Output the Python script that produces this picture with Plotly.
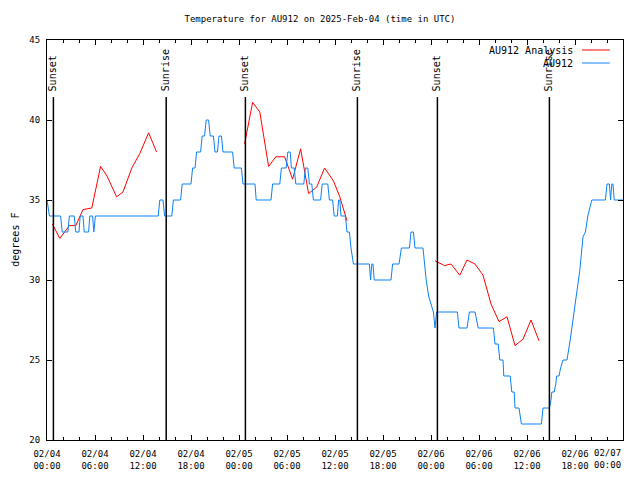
import datetime as dt
import plotly.graph_objects as go

BASE = dt.datetime(2025, 2, 4)

# Observed temperatures (hours since 2025-02-04 00:00 UTC, degrees F)
obs_hours = [0.0, 0.3, 1.7, 1.9, 2.6, 2.8, 3.4, 3.6, 4.0, 4.15, 4.5, 4.65, 5.2, 5.35, 5.7, 5.85, 6.05,
             13.9, 14.1, 14.5, 14.7, 15.6, 15.8, 16.7, 16.9, 18.0, 18.2, 18.5, 18.7, 19.2, 19.4, 19.7,
             19.9, 20.2, 20.4, 20.8, 21.0, 21.3, 21.5, 21.8, 22.0, 23.2, 23.4, 24.3, 24.5, 26.0, 26.15,
             28.0, 28.2, 29.1, 29.3, 29.9, 30.1, 30.4, 30.55, 30.9, 31.1, 32.1, 32.3, 32.6, 32.8, 33.1,
             33.3, 34.2, 34.4, 35.1, 35.3, 35.7, 35.9, 36.3, 36.45, 36.6, 36.75, 37.3, 37.5, 37.8, 38.0,
             38.3, 40.3, 40.45, 40.6, 40.75, 40.9, 43.0, 43.2, 44.0, 44.3, 45.3, 45.5, 45.8, 46.0, 47.0,
             47.2, 47.4, 47.7, 48.0, 48.3, 48.5, 48.7, 51.3, 51.5, 52.5, 52.8, 53.5, 53.9, 55.8, 56.0,
             56.4, 56.6, 57.0, 57.1, 57.9, 58.1, 58.4, 58.5, 59.0, 59.3, 61.8, 62.0, 62.8, 63.0, 63.1,
             63.4, 63.6, 63.7, 64.0, 64.2, 64.5, 65.0, 65.4, 65.8, 66.2, 66.6, 67.0, 67.3, 67.6, 68.1,
             69.8, 70.0, 70.3, 70.45, 70.6, 70.75, 70.9, 72.0]
obs_temps = [35, 34, 34, 33, 33, 34, 34, 33, 33, 34, 34, 33, 33, 34, 34, 33, 34,
             34, 35, 35, 34, 34, 35, 35, 36, 36, 37, 37, 38, 38, 39, 39,
             40, 40, 39, 39, 38, 38, 39, 39, 38, 38, 37, 37, 36, 36, 35,
             35, 36, 36, 37, 37, 38, 38, 37, 37, 36, 36, 37, 37, 36, 36,
             35, 35, 36, 36, 35, 35, 34, 34, 35, 35, 34, 34, 33, 33, 32,
             31, 31, 30, 31, 31, 30, 30, 31, 31, 32, 32, 33, 33, 32, 32,
             31, 30, 29, 28.5, 28, 27, 28, 28, 27, 27, 28, 28, 27, 27, 26,
             26, 25, 25, 24, 24, 23, 23, 22, 22, 21, 21, 22, 22, 22.5, 23,
             23, 23.5, 24, 24, 24.5, 25, 25, 26.25, 27.7, 29.2, 30.6, 32.7, 33, 34, 35,
             35, 36, 36, 35, 36, 36, 35, 35]

# Analysis temperatures (None marks gaps between runs)
anal_hours = [0.67, 1.6, 2.8, 3.6, 4.5, 5.6, 6.7, 7.5, 8.7, 9.5, 10.6, 11.6, 12.7, 13.7, None,
              24.7, 25.7, 26.6, 27.7, 28.6, 29.7, 30.7, 31.7, 32.7, 33.7, 34.7, 35.8, 36.6, 37.5, None,
              48.5, 49.7, 50.5, 51.6, 52.5, 53.5, 54.5, 55.5, 56.5, 57.5, 58.5, 59.5, 60.5, 61.5]
anal_temps = [33.5, 32.6, 33.4, 33.4, 34.4, 34.5, 37.1, 36.5, 35.2, 35.5, 37.0, 37.9, 39.2, 38.0, None,
              38.5, 41.1, 40.5, 37.1, 37.7, 37.7, 36.3, 38.2, 35.4, 35.8, 37.0, 36.2, 35.2, 33.7, None,
              31.2, 30.9, 31.0, 30.3, 31.25, 31.0, 30.3, 28.5, 27.4, 27.7, 25.9, 26.3, 27.5, 26.2]

# Sun events
event_hours = [0.8, 14.9, 24.8, 38.8, 48.8, 62.8]
event_names = ["Sunset", "Sunrise", "Sunset", "Sunrise", "Sunset", "Sunrise"]

# x tick positions (hours) and labels
tick_hours = [0, 6, 12, 18, 24, 30, 36, 42, 48, 54, 60, 66, 72]
tick_labels = ["02/04<br>00:00", "02/04<br>06:00", "02/04<br>12:00", "02/04<br>18:00",
               "02/05<br>00:00", "02/05<br>06:00", "02/05<br>12:00", "02/05<br>18:00",
               "02/06<br>00:00", "02/06<br>06:00", "02/06<br>12:00", "02/06<br>18:00",
               "02/07<br>00:00"]

series_names = ["AU912 Analysis", "AU912"]
series_colors = ["#ff0000", "#0a82f5"]


def to_time(h):
    return None if h is None else BASE + dt.timedelta(hours=h)


FONT = "DejaVu Sans Mono"
TICK_SIZE = 9
# page body has an 8px default margin; size the figure so it fills the 640x480 view
W, H = 632, 472
ML, MT, MR, MB = 39, 32, 17, 40

fig = go.Figure()
fig.add_trace(go.Scatter(x=[to_time(h) for h in anal_hours], y=anal_temps, mode="lines",
                         line=dict(color=series_colors[0], width=1), name=series_names[0],
                         connectgaps=False, showlegend=False))
fig.add_trace(go.Scatter(x=[to_time(h) for h in obs_hours], y=obs_temps, mode="lines",
                         line=dict(color=series_colors[1], width=1), name=series_names[1],
                         showlegend=False))

annotations = []
shapes = []
for h, name in zip(event_hours, event_names):
    t = to_time(h)
    shapes.append(dict(type="line", xref="x", yref="paper", x0=t, x1=t, y0=0, y1=0.8575,
                       line=dict(color="black", width=1.5)))
    annotations.append(dict(x=t, xref="x", y=0.8675, yref="paper", text=name, showarrow=False,
                            textangle=-90, xanchor="center", yanchor="bottom",
                            font=dict(family=FONT, size=10, color="black")))

# legend (gnuplot style: text then line sample)
leg_y = [0.975, 0.9425]
for name, col, yy in zip(series_names, series_colors, leg_y):
    annotations.append(dict(x=0.916, xref="paper", y=yy, yref="paper", text=name, showarrow=False,
                            xanchor="right", yanchor="middle",
                            font=dict(family=FONT, size=10, color="black")))
    shapes.append(dict(type="line", xref="paper", yref="paper", x0=0.9288, x1=0.977, y0=yy, y1=yy,
                       line=dict(color=col, width=1)))

annotations.append(dict(x=-0.056, xref="paper", y=0.5, yref="paper", text="degrees F",
                        showarrow=False, textangle=-90, xanchor="center", yanchor="middle",
                        font=dict(family=FONT, size=10, color="black")))

# last tick label is pulled inside the frame (as in the reference)
annotations.append(dict(x=1.0, xref="paper", y=0, yref="paper", yshift=-6, text=tick_labels[-1],
                        showarrow=False, xanchor="right", yanchor="top", align="center",
                        font=dict(family=FONT, size=TICK_SIZE, color="black")))
shown_labels = tick_labels[:-1] + [""]

fig.update_layout(
    width=W, height=H,
    margin=dict(l=ML, r=MR, t=MT, b=MB, autoexpand=False),
    paper_bgcolor="white", plot_bgcolor="white",
    font=dict(family=FONT, size=9, color="black"),
    title=dict(text="Temperature for AU912 on 2025-Feb-04 (time in UTC)", x=(320 - 8) / W,
               xref="container", y=1 - 11 / H, yanchor="middle", xanchor="center",
               font=dict(family=FONT, size=9, color="black")),
    shapes=shapes, annotations=annotations, showlegend=False,
)
fig.update_xaxes(type="date", range=[BASE, BASE + dt.timedelta(days=3)],
                 tickmode="array", tickvals=[to_time(h) for h in tick_hours], ticktext=shown_labels,
                 ticks="inside", ticklen=5, tickcolor="black", showgrid=False, zeroline=False,
                 showline=True, linecolor="black", linewidth=1, mirror="ticks",
                 automargin=False, ticklabelstandoff=5,
                 minor=dict(dtick=2 * 3600 * 1000, tick0=BASE, ticks="inside", ticklen=3,
                            tickcolor="black", showgrid=False),
                 tickfont=dict(family=FONT, size=TICK_SIZE))
fig.update_yaxes(range=[20, 45], dtick=5, ticks="inside", ticklen=5, tickcolor="black",
                 showgrid=False, zeroline=False, showline=True, linecolor="black", linewidth=1,
                 mirror="ticks", automargin=False, ticklabelstandoff=4,
                 tickfont=dict(family=FONT, size=TICK_SIZE))

fig.write_html("out.html")
